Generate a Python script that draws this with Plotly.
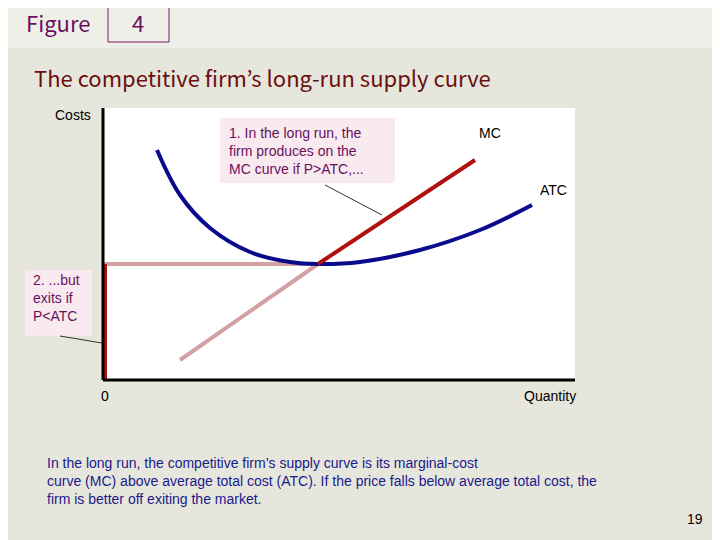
import plotly.graph_objects as go

# curve points (x = quantity units, y = cost units, origin at axis corner)
atc_x = [54, 77, 107, 147, 187, 215, 257, 317, 377, 429]
atc_y = [230, 185, 152, 128, 118, 116, 118, 130, 150, 175]
mc_low_x = [77, 215]
mc_low_y = [20, 116]
mc_high_x = [215, 372]
mc_high_y = [116, 220]
exit_x = [0, 215]
exit_y = [116, 116]
vert_x = [2, 2]
vert_y = [0, 116]

W, H = 720, 540
OFF = 8  # page body margin shifts everything by ~8px
x0, x1, y0, y1 = 103, 575, 380, 108
fig = go.Figure()
fig.add_trace(go.Scatter(x=exit_x, y=exit_y, mode='lines', line=dict(color='#d4a0a4', width=4)))
fig.add_trace(go.Scatter(x=mc_low_x, y=mc_low_y, mode='lines', line=dict(color='#d4a0a4', width=4)))
fig.add_trace(go.Scatter(x=vert_x, y=vert_y, mode='lines', line=dict(color='#b01010', width=4)))
fig.add_trace(go.Scatter(x=atc_x, y=atc_y, mode='lines', line=dict(color='#0a0a8c', width=4, shape='spline')))
fig.add_trace(go.Scatter(x=mc_high_x, y=mc_high_y, mode='lines', line=dict(color='#b01010', width=4)))

def px(x): return (x - OFF) / W
def py(y): return 1 - (y - OFF) / H

shapes = [
    dict(type='rect', xref='paper', yref='paper', x0=0, x1=1, y0=py(48), y1=py(56), fillcolor='#d8d8cc', line_width=0, layer='below'),
    dict(type='rect', xref='paper', yref='paper', x0=0, x1=1, y0=0, y1=py(48), fillcolor='#e6e6dc', line_width=0, layer='below'),
    dict(type='rect', xref='paper', yref='paper', x0=px(x0), x1=px(x1), y0=py(y0), y1=py(y1), fillcolor='white', line_width=0, layer='below'),
    dict(type='rect', xref='paper', yref='paper', x0=px(108), x1=px(169), y0=py(42), y1=py(2), line=dict(color='#7a1a6a', width=1)),
    dict(type='rect', xref='paper', yref='paper', x0=px(220), x1=px(395), y0=py(183), y1=py(118), fillcolor='#f8eaee', line_width=0),
    dict(type='rect', xref='paper', yref='paper', x0=px(25), x1=px(92), y0=py(336), y1=py(270), fillcolor='#f8eaee', line_width=0),
    dict(type='line', xref='paper', yref='paper', x0=px(325), x1=px(382), y0=py(185), y1=py(215), line=dict(color='#333', width=1)),
    dict(type='line', xref='paper', yref='paper', x0=px(60), x1=px(102), y0=py(336), y1=py(343), line=dict(color='#333', width=1)),
    dict(type='line', xref='paper', yref='paper', x0=px(x0), x1=px(x0), y0=py(y0), y1=py(y1), line=dict(color='black', width=3)),
    dict(type='line', xref='paper', yref='paper', x0=px(x0), x1=px(x1), y0=py(y0), y1=py(y0), line=dict(color='black', width=3)),
]

F = 'Liberation Sans, Arial'
def ann(x, y, t, size=14, color='black', xa='left', ya='middle', font=F):
    return dict(xref='paper', yref='paper', x=px(x), y=py(y), text=t, showarrow=False,
                xanchor=xa, yanchor=ya, align='left', font=dict(size=size, color=color, family=font))

annotations = [
    ann(24, 22, 'Figure', 22, '#6a1060', font='Noto Sans CJK JP'),
    ann(138, 22, '4', 22, '#6a1060', xa='center', font='Noto Sans CJK JP'),
    ann(32, 77, 'The competitive firm’s long-run supply curve', 22, '#6b0f0f', font='Noto Sans CJK JP'),
    ann(53, 115, 'Costs', 14),
    ann(227, 151, '1. In the long run, the<br>firm produces on the<br>MC curve if P>ATC,...', 14, '#6a1060'),
    ann(477, 133, 'MC', 14),
    ann(538, 190, 'ATC', 14),
    ann(31, 298, '2. ...but<br>exits if<br>P<ATC', 14, '#6a1060'),
    ann(105, 396, '0', 14, xa='center'),
    ann(522, 396, 'Quantity', 14),
    ann(45, 481, 'In the long run, the competitive firm’s supply curve is its marginal-cost<br>curve (MC) above average total cost (ATC). If the price falls below average total cost, the<br>firm is better off exiting the market.', 14, '#1a1a8c'),
    ann(705, 519, '19', 14, xa='right'),
]

fig.update_layout(
    width=W, height=H, margin=dict(l=0, r=0, t=0, b=0), showlegend=False,
    paper_bgcolor='#efefe9', plot_bgcolor='rgba(0,0,0,0)',
    xaxis=dict(domain=[px(x0), px(x1)], range=[0, x1 - x0], visible=False, fixedrange=True),
    yaxis=dict(domain=[py(y0), py(y1)], range=[0, y0 - y1], visible=False, fixedrange=True),
    shapes=shapes, annotations=annotations,
)
fig.write_html("out.html")
